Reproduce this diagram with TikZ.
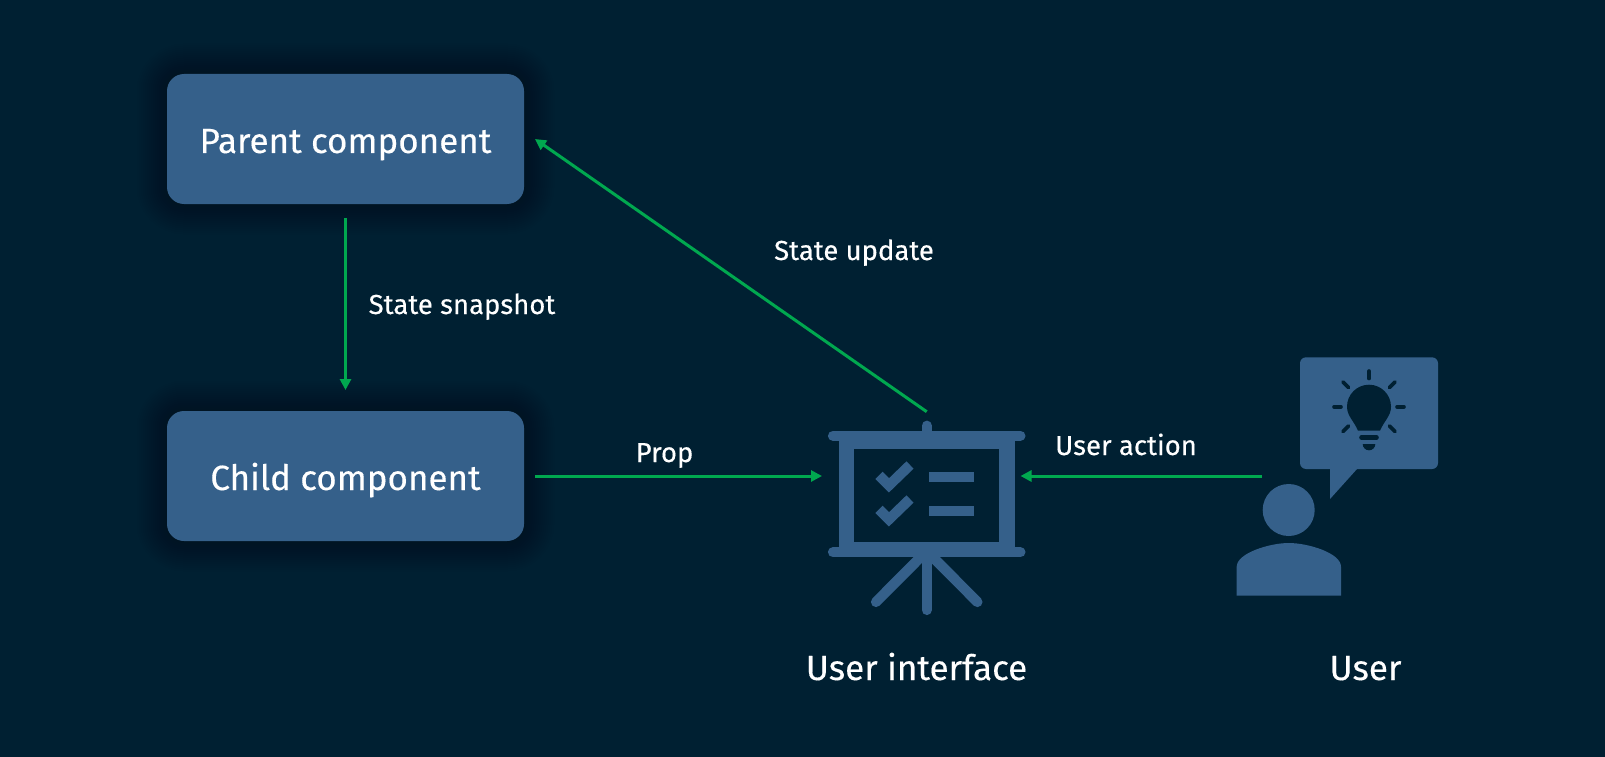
\documentclass[tikz,border=0pt]{standalone}
\usepackage{fontspec}
\setmainfont[FakeBold=0.3]{Fira Sans}
\usetikzlibrary{positioning,arrows.meta}
\definecolor{bgcol}{HTML}{002032}
\definecolor{boxcol}{HTML}{35608A}
\definecolor{glowcol}{HTML}{00141E}
\definecolor{arrowcol}{HTML}{00A84F}

\begin{document}
\begin{tikzpicture}[
  x=1pt, y=-1pt,
  boxnode/.style={rectangle, rounded corners=17pt, fill=boxcol, text=white, minimum width=357pt, minimum height=130pt, outer sep=11pt, text height=28pt, text depth=0pt, font=\fontsize{35}{38}\selectfont},
  biglabel/.style={text=white, text height=28pt, text depth=0pt, font=\fontsize{35}{38}\selectfont},
  smalllabel/.style={text=white, text height=20pt, text depth=0pt, font=\fontsize{27.5}{30}\selectfont},
  arrow/.style={draw=arrowcol, fill=arrowcol, line width=3pt, -{Triangle[length=11pt,width=11pt]}},
  iconline/.style={draw=boxcol, line width=10.2pt},
  rayline/.style={draw=bgcol, line width=3.6pt, line cap=round}
]
\fill[bgcol] (0,0) rectangle (1605,757);
\useasboundingbox (0,0) rectangle (1605,757);

%Glow
\foreach \w in {4,8,...,60}{
  \draw[glowcol, line width=\w pt, opacity=0.02, rounded corners=17pt] (167,74) rectangle (524,204);
  \draw[glowcol, line width=\w pt, opacity=0.02, rounded corners=17pt] (167,411) rectangle (524,541);
}

%Nodes
\node[boxnode] (parent) at (345.5,139) {Parent component};
\node[boxnode] (child) at (345.5,476) {Child component};

\coordinate (boardwest) at (822,476);
\coordinate (boardtop) at (926.7,411.7);
\coordinate (boardeast) at (1020.5,476);
\coordinate (userwest) at (1262,476);

%Board
\fill[boxcol] (838.7,436) rectangle (1014.7,552);
\fill[bgcol] (854,448.7) rectangle (999.4,542);
\draw[iconline, line cap=round] (833,435.7) -- (1020.4,435.7);
\draw[iconline, line cap=round] (833,552.3) -- (1020.4,552.3);
\draw[iconline, line cap=round] (926.7,425.7) -- (926.7,436);
\draw[iconline, line cap=round] (926.7,552) -- (926.7,610);
\draw[iconline, line cap=round] (926.7,551) -- (876,602);
\draw[iconline, line cap=round] (926.7,551) -- (977.4,602);
\foreach \dy in {0,34}{
  \draw[iconline, yshift=-\dy pt] (879,475.3) -- (889,485.3) -- (910,465);
  \fill[boxcol] (929.3,472+\dy) rectangle (974,482.3+\dy);
}

%User
\fill[boxcol, rounded corners=6pt] (1300,357.3) rectangle (1438,469);
\fill[boxcol] (1330,465) -- (1330,499) -- (1357,469) -- (1357,465) -- cycle;
\fill[boxcol] (1288.7,510) circle[radius=26];
\fill[boxcol] (1236.7,595.7) -- (1236.7,566.7) .. controls (1236.7,553) and (1270,543) .. (1288.7,543) .. controls (1308,543) and (1341,553) .. (1341,566.7) -- (1341,595.7) -- cycle;

%Bulb
\fill[bgcol] (1358,430.7) .. controls (1354,421) and (1347,416) .. (1347,406.7) arc[start angle=180, end angle=360, radius=22] .. controls (1391,416) and (1384,421) .. (1380,430.7) -- cycle;
\draw[rayline, line width=4.6pt] (1361.5,437.5) -- (1376.5,437.5);
\fill[bgcol] (1362.7,444) -- (1375.3,444) arc[start angle=0, end angle=180, radius=6.3] -- cycle;
\draw[rayline] (1369,371) -- (1369,378.5);
\draw[rayline] (1334,406.7) -- (1341,406.7);
\draw[rayline] (1397,406.7) -- (1404,406.7);
\draw[rayline] (1343,382) -- (1348.5,387.5);
\draw[rayline] (1395,382) -- (1389.5,387.5);
\draw[rayline] (1343,431.5) -- (1348.5,426);
\draw[rayline] (1395,431.5) -- (1389.5,426);

%Arrows
\draw[arrow, shorten <=3pt, shorten >=10pt] (parent.south) -- (child.north);
\draw[arrow] (boardtop) -- (parent.east);
\draw[arrow] (child.east) -- (boardwest);
\draw[arrow] (userwest) -- (boardeast);

%Labels
\node[smalllabel] (snapshot) at (462,304) {State snapshot};
\node[smalllabel] (update) at (854,250) {State update};
\node[smalllabel] (prop) at (664.5,452) {Prop};
\node[smalllabel] (action) at (1126,445) {User action};
\node[biglabel] (uilabel) at (916.5,666) {User interface};
\node[biglabel] (userlabel) at (1365.5,666) {User};
\end{tikzpicture}
\end{document}
